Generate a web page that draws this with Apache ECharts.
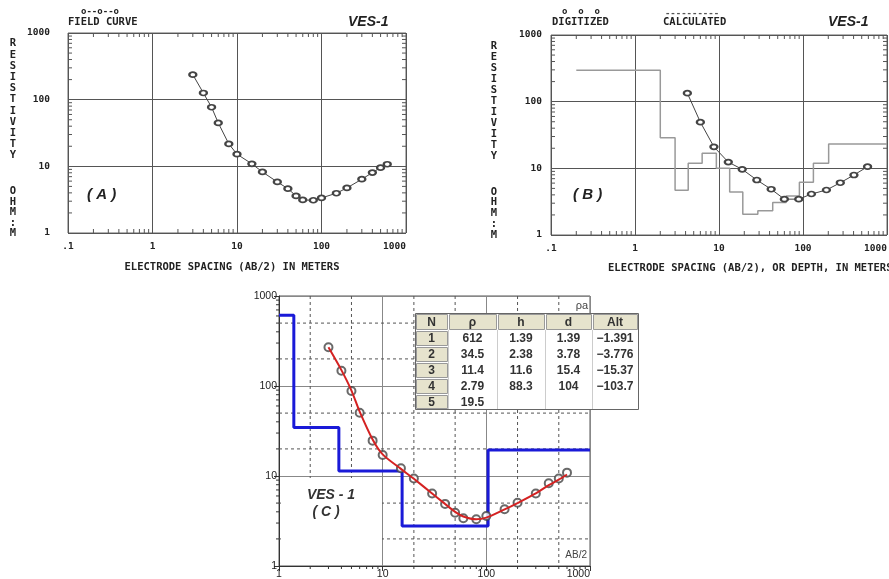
<!DOCTYPE html>
<html>
<head>
<meta charset="utf-8">
<script src="https://cdn.jsdelivr.net/npm/echarts@6/dist/echarts.min.js"></script>
<style>
  html, body { margin: 0; padding: 0; background: #fff; }
  #chart { width: 889px; height: 579px; }
</style>
</head>
<body>
<div id="chart"></div>
<script>
// ---- Field sounding VES-1: half electrode spacing AB/2 (m) ----
const abHalf = [3, 4, 5, 6, 8, 10, 15, 20, 30, 40, 50, 60, 80, 100, 150, 200, 300, 400, 500, 600];
// (A) field curve, apparent resistivity (ohm-m)
const fieldRhoA = [237, 126, 77, 44.8, 21.7, 15.2, 10.9, 8.24, 5.83, 4.63, 3.6, 3.13, 3.1, 3.36, 3.95, 4.74, 6.41, 8.05, 9.56, 10.75];

const digitAB = [4.2, 6.0, 8.7, 12.9, 18.9, 28.2, 41.8, 60, 89, 126, 190, 278, 404, 587];
const digitRho = [134, 49.3, 21, 12.4, 9.66, 6.68, 4.86, 3.45, 3.45, 4.12, 4.73, 6.08, 7.94, 10.6];
const stepDepthB = [0.2, 2, 3, 4.3, 6.3, 9.3, 13.4, 19.2, 29, 43.6, 63, 90.6, 133, 202, 1000];
const stepRhoB = [296, 28.8, 4.7, 11.9, 16.8, 10, 4.4, 2.05, 2.32, 3.06, 3.85, 6.17, 11.9, 23.1];

// (C) measured points, fitted response and 5-layer model
const measRhoC = [269, 148, 88, 50.5, 24.7, 17.1, 12.2, 9.4, 6.4, 4.9, 3.9, 3.4, 3.3, 3.6, 4.27, 5.05, 6.4, 8.3, 9.4, 10.9];
const fitRhoC = [269, 150, 89, 52, 25.5, 17.4, 12.0, 9.3, 6.4, 4.9, 4.0, 3.55, 3.3, 3.45, 4.25, 5.0, 6.4, 7.9, 9.1, 10.4];
const layerNo = [1, 2, 3, 4, 5];
const layerRho = [612, 34.5, 11.4, 2.79, 19.5];
const layerThick = [1.39, 2.38, 11.6, 88.3];
const layerDepth = [1.39, 3.78, 15.4, 104];
const layerAlt = [-1.391, -3.776, -15.37, -103.7];
const tableHead = ['N', 'ρ', 'h', 'd', 'Alt'];

// axis tick labels
const decadeLabelsAB = { 0.1: '.1', 1: '1', 10: '10', 100: '100', 1000: '1000' };

const mono = '"DejaVu Sans Mono", "Liberation Mono", monospace';
const sans = '"Liberation Sans", Arial, sans-serif';

// step polyline from layer boundaries and layer values
function stepLine(edges, vals) {
  const pts = [];
  vals.forEach((v, i) => { pts.push([edges[i], v]); pts.push([edges[i + 1], v]); });
  return pts;
}
function minorValues(lo, hi) {
  const out = [];
  for (let d = lo; d < hi * 0.999; d *= 10) for (let k = 2; k <= 9; k++) out.push(+(d * k).toPrecision(3));
  return out;
}

// small 2..9 ticks inside/outside the frame
function tickSeries(gi, axis, vals, sides, len, color) {
  return {
    type: 'custom', xAxisIndex: gi, yAxisIndex: gi, silent: true, z: 4, clip: false,
    data: vals.map(v => axis === 'x' ? [v, 10] : [10, v]),
    renderItem(params, api) {
      const cs = params.coordSys;
      const p = api.coord([api.value(0), api.value(1)]);
      const kids = sides.map(s => {
        let shape;
        const yb = cs.y + cs.height, xr = cs.x + cs.width;
        if (s === 'bottom') shape = { x1: p[0], y1: yb, x2: p[0], y2: yb - len };
        if (s === 'bottomOut') shape = { x1: p[0], y1: yb, x2: p[0], y2: yb + len };
        if (s === 'top') shape = { x1: p[0], y1: cs.y, x2: p[0], y2: cs.y + len };
        if (s === 'left') shape = { x1: cs.x, y1: p[1], x2: cs.x + len, y2: p[1] };
        if (s === 'leftOut') shape = { x1: cs.x, y1: p[1], x2: cs.x - len, y2: p[1] };
        if (s === 'right') shape = { x1: xr, y1: p[1], x2: xr - len, y2: p[1] };
        return { type: 'line', shape, style: { stroke: color, lineWidth: 1 } };
      });
      return { type: 'group', children: kids };
    }
  };
}
// dashed 2/5 grid lines across the whole plot
function dashGrid(gi, axis, vals) {
  return {
    type: 'custom', xAxisIndex: gi, yAxisIndex: gi, silent: true, z: 1, clip: false,
    data: vals.map(v => axis === 'x' ? [v, 10] : [10, v]),
    renderItem(params, api) {
      const cs = params.coordSys;
      const p = api.coord([api.value(0), api.value(1)]);
      const shape = axis === 'x'
        ? { x1: p[0], y1: cs.y, x2: p[0], y2: cs.y + cs.height }
        : { x1: cs.x, y1: p[1], x2: cs.x + cs.width, y2: p[1] };
      return { type: 'line', shape, style: { stroke: '#555', lineWidth: 1, lineDash: [3, 3] } };
    }
  };
}

function dosAxes(gi, yMargin) {
  const x = {
    type: 'log', logBase: 10, gridIndex: gi, min: 0.1, max: 1000,
    axisLine: { show: false }, axisTick: { show: false },
    splitLine: { show: true, lineStyle: { color: '#555', width: 1 } },
    axisLabel: { fontFamily: mono, fontWeight: 'bold', fontSize: 9.5, color: '#222', margin: 9,
      alignMaxLabel: 'right',
      formatter: v => decadeLabelsAB[+(+v).toPrecision(3)] ?? '' }
  };
  const y = {
    type: 'log', logBase: 10, gridIndex: gi, min: 1, max: 1000,
    axisLine: { show: false }, axisTick: { show: false },
    splitLine: { show: true, lineStyle: { color: '#555', width: 1 } },
    axisLabel: { fontFamily: mono, fontWeight: 'bold', fontSize: 9.5, color: '#222', margin: yMargin,
      formatter: v => String(Math.round(v)) }
  };
  return [x, y];
}

const [xA, yA] = dosAxes(0, 18);
const [xB, yB] = dosAxes(1, 9);
const xC = {
  type: 'log', logBase: 10, gridIndex: 2, min: 1, max: 1000,
  axisLine: { show: true, lineStyle: { color: '#333' } },
  axisTick: { show: true, length: 5, lineStyle: { color: '#333' } },
  splitLine: { show: true, lineStyle: { color: '#888', width: 1 } },
  axisLabel: { fontFamily: sans, fontSize: 10.5, color: '#222', margin: 3, alignMaxLabel: 'right',
    formatter: v => String(Math.round(v)) }
};
const yC = {
  type: 'log', logBase: 10, gridIndex: 2, min: 1, max: 1000,
  axisLine: { show: true, lineStyle: { color: '#333' } },
  axisTick: { show: true, length: 5, lineStyle: { color: '#333' } },
  splitLine: { show: true, lineStyle: { color: '#888', width: 1 } },
  axisLabel: { fontFamily: sans, fontSize: 10.5, color: '#222', margin: 2,
    formatter: v => String(Math.round(v)) }
};

// ---- graphic: titles, legends, vertical axis names, C table (own canvas layer on top) ----
const TOP = 1;
const g = [];
function txt(text, x, y, font, opts = {}) {
  g.push({ type: 'text', zlevel: TOP, z: 20, style: Object.assign({
    text, x, y, font, fill: '#222', textAlign: 'left', textVerticalAlign: 'middle' }, opts.style || {}) });
}
const dosFont = 'bold 10.5px ' + mono;
function verticalWord(word, x, y0, step) {
  txt(word.split('').join('\n'), x, y0, dosFont, { style: { textAlign: 'center', textVerticalAlign: 'top', lineHeight: step } });
}
// panel A
txt('o--o--o', 100, 12, 'bold 9px ' + mono, { style: { textAlign: 'center' } });
txt('FIELD CURVE', 68, 22, dosFont);
txt('VES-1', 348, 22, 'italic bold 14px ' + sans);
txt('( A )', 87, 195, 'italic bold 15px ' + sans);
verticalWord('RESISTIVITY', 13, 38, 11.2);
verticalWord('OHM:M', 13, 186.5, 10.4);
txt('ELECTRODE SPACING (AB/2) IN METERS', 232, 267, dosFont, { style: { textAlign: 'center' } });
// panel B
txt('o  o  o', 581, 12, 'bold 9px ' + mono, { style: { textAlign: 'center' } });
txt('DIGITIZED', 552, 22, dosFont);
txt('----------', 692, 14, 'bold 9px ' + mono, { style: { textAlign: 'center', fill: '#555' } });
txt('CALCULATED', 663, 22, dosFont);
txt('VES-1', 828, 22, 'italic bold 14px ' + sans);
txt('( B )', 573, 195, 'italic bold 15px ' + sans);
verticalWord('RESISTIVITY', 494, 41, 11.0);
verticalWord('OHM:M', 494, 186.5, 10.8);
txt('ELECTRODE SPACING (AB/2), OR DEPTH, IN METERS', 608, 268, dosFont);
// panel C: label box over the lower-left grid
g.push({ type: 'rect', zlevel: TOP, z: 5, shape: { x: 281, y: 478, width: 101, height: 87 }, style: { fill: '#fff' } });
txt('VES - 1', 331, 495, 'italic bold 14px ' + sans, { style: { textAlign: 'center', fill: '#333' } });
txt('( C )', 326, 512, 'italic bold 14px ' + sans, { style: { textAlign: 'center', fill: '#333' } });
txt('ρa', 588, 306, '11px ' + sans, { style: { textAlign: 'right', fill: '#444' } });
txt('AB/2', 587, 555, '10px ' + sans, { style: { textAlign: 'right', fill: '#444' } });

// layer table
const colX = [415, 448, 497, 545, 592, 638];
const rowY = [313, 330, 346, 362, 378, 394, 409];
const beige = '#e6e3cd';
function cellRect(x, y, w, h, fill, stroke) {
  g.push({ type: 'rect', zlevel: TOP, z: 30, shape: { x, y, width: w, height: h }, style: { fill, stroke, lineWidth: 1 } });
}
function cellText(text, x, y) {
  g.push({ type: 'text', zlevel: TOP, z: 32, style: { text, x, y, font: 'bold 12px ' + sans, fill: '#333',
    textAlign: 'center', textVerticalAlign: 'middle' } });
}
cellRect(colX[0] + 0.5, rowY[0] + 0.5, colX[5] - colX[0], rowY[6] - rowY[0], '#fff', '#666');
for (let c = 1; c < 5; c++) {
  g.push({ type: 'line', zlevel: TOP, z: 31, shape: { x1: colX[c] + 0.5, y1: rowY[1], x2: colX[c] + 0.5, y2: rowY[6] }, style: { stroke: '#ccc' } });
}
tableHead.forEach((h, c) => {
  cellRect(colX[c] + 1.5, rowY[0] + 1.5, colX[c + 1] - colX[c] - 2, rowY[1] - rowY[0] - 2, beige, '#999');
  cellText(h, (colX[c] + colX[c + 1]) / 2, (rowY[0] + rowY[1]) / 2 + 1);
});
const fmtAlt = v => String(v).replace('-', '\u2212');
layerNo.forEach((n, r) => {
  const yc = (rowY[r + 1] + rowY[r + 2]) / 2 + 1;
  cellRect(colX[0] + 1.5, rowY[r + 1] + 1.5, colX[1] - colX[0] - 2, rowY[r + 2] - rowY[r + 1] - 2, beige, '#999');
  const cells = [String(n), String(layerRho[r]),
    r < layerThick.length ? String(layerThick[r]) : '',
    r < layerDepth.length ? String(layerDepth[r]) : '',
    r < layerAlt.length ? fmtAlt(layerAlt[r]) : ''];
  cells.forEach((s, c) => { if (s) cellText(s, (colX[c] + colX[c + 1]) / 2, yc); });
});

const minorX01 = minorValues(0.1, 1000);
const minorY1 = minorValues(1, 1000);
const minorX1 = minorValues(1, 1000);

const gridBase = { show: true, outerBoundsMode: 'none', containLabel: false };
const option = {
  animation: false,
  backgroundColor: '#fff',
  grid: [
    Object.assign({ left: 68, top: 33, width: 338, height: 200, borderColor: '#666', borderWidth: 1 }, gridBase),
    Object.assign({ left: 551, top: 35, width: 336, height: 200, borderColor: '#666', borderWidth: 1 }, gridBase),
    Object.assign({ left: 279, top: 296, width: 311, height: 270, borderColor: '#555', borderWidth: 1 }, gridBase)
  ],
  xAxis: [xA, xB, xC],
  yAxis: [yA, yB, yC],
  graphic: { zlevel: TOP, elements: g },
  series: [
    tickSeries(0, 'x', minorX01, ['bottom', 'top'], 4, '#555'),
    tickSeries(0, 'y', minorY1, ['left', 'right'], 4, '#555'),
    tickSeries(1, 'x', minorX01, ['bottom', 'top'], 4, '#555'),
    tickSeries(1, 'y', minorY1, ['left', 'right'], 4, '#555'),
    tickSeries(2, 'x', minorX1, ['bottomOut'], 3, '#333'),
    tickSeries(2, 'y', minorY1, ['leftOut'], 3, '#333'),
    dashGrid(2, 'x', [2, 5, 20, 50, 200, 500]),
    dashGrid(2, 'y', [2, 5, 20, 50, 200, 500]),
    {
      type: 'line', xAxisIndex: 0, yAxisIndex: 0, z: 5,
      data: abHalf.map((x, i) => [x, fieldRhoA[i]]),
      symbol: 'emptyCircle', symbolSize: [7, 5],
      lineStyle: { color: '#444', width: 1 }, itemStyle: { color: '#444', borderWidth: 1 }
    },
    {
      type: 'line', xAxisIndex: 1, yAxisIndex: 1, z: 4,
      data: stepLine(stepDepthB, stepRhoB), showSymbol: false,
      lineStyle: { color: '#999', width: 1.5 }
    },
    {
      type: 'line', xAxisIndex: 1, yAxisIndex: 1, z: 5,
      data: digitAB.map((x, i) => [x, digitRho[i]]),
      symbol: 'emptyCircle', symbolSize: [7, 5],
      lineStyle: { color: '#444', width: 1 }, itemStyle: { color: '#444', borderWidth: 1 }
    },
    {
      type: 'line', xAxisIndex: 2, yAxisIndex: 2, z: 5,
      data: stepLine([1, ...layerDepth, 1000], layerRho), showSymbol: false,
      lineStyle: { color: '#1a1ad8', width: 3 }
    },
    {
      type: 'scatter', xAxisIndex: 2, yAxisIndex: 2, z: 6,
      data: abHalf.map((x, i) => [x, measRhoC[i]]),
      symbol: 'emptyCircle', symbolSize: 8,
      itemStyle: { color: '#444', borderColor: '#444', borderWidth: 1 }
    },
    {
      type: 'line', xAxisIndex: 2, yAxisIndex: 2, z: 7, smooth: 0.3,
      data: abHalf.map((x, i) => [x, fitRhoC[i]]), showSymbol: false,
      lineStyle: { color: '#d42222', width: 2 }
    }
  ]
};
const chart = echarts.init(document.getElementById('chart'));
chart.setOption(option);
</script>
</body>
</html>
